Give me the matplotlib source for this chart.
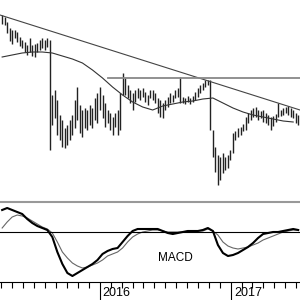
import matplotlib
matplotlib.use("Agg")
import matplotlib.pyplot as plt
import matplotlib.dates as mdates
import numpy as np
import pandas as pd

plt.rcParams['font.family'] = ['Liberation Sans', 'DejaVu Sans']

# weekly bars
dates = pd.date_range('2015-04-03', periods=119, freq='W-FRI')

high = [185, 183, 178, 172, 170, 170, 168, 163, 160, 158, 155, 162, 155, 156, 157, 160, 162, 160, 162, 160,
        105, 110, 100, 85, 80, 72, 75, 80, 85, 100, 113, 95, 90, 92, 90, 95, 92, 102, 107, 113,
        105, 97, 90, 87, 83, 87, 90, 107, 127, 122, 115, 110, 107, 110, 112, 110, 112, 108, 105, 110,
        110, 107, 102, 100, 97, 100, 103, 107, 105, 110, 112, 123, 103, 102, 104, 102, 104, 108, 112, 115,
        117, 120, 120, 120, 70, 53, 45, 43, 47, 43, 45, 50, 67, 69, 72, 73, 76, 83, 87, 90,
        92, 93, 90, 89, 90, 87, 85, 83, 84, 86, 97, 90, 92, 93, 94, 92, 90, 87, 85]
low = [176, 175, 167, 159, 156, 162, 158, 154, 152, 148, 145, 148, 144, 143, 148, 150, 152, 150, 153, 50,
       75, 82, 65, 60, 53, 52, 55, 60, 65, 72, 80, 67, 63, 72, 70, 75, 72, 80, 77, 90,
       82, 73, 77, 70, 65, 73, 65, 70, 105, 105, 102, 97, 90, 98, 102, 100, 103, 98, 95, 102,
       100, 97, 87, 83, 82, 90, 93, 97, 98, 102, 103, 97, 97, 96, 98, 96, 98, 100, 103, 107,
       110, 113, 115, 70, 43, 28, 15, 20, 27, 30, 32, 40, 47, 60, 63, 65, 69, 70, 77, 80,
       83, 83, 80, 82, 78, 77, 75, 70, 74, 78, 83, 84, 85, 87, 85, 83, 82, 77, 75]

# moving average, every 4th week
ma = [143, 145, 147, 148, 148, 147, 144, 141, 137, 130, 122, 113, 105, 98, 93,
      90, 94, 96, 98, 99, 101, 102, 97, 92, 88, 85, 83, 81, 79, 78]

# trend line and resistance level
trend_dates = pd.to_datetime(['2015-03-28', '2017-07-12'])
trend_vals = [185, 90]
level = 122
level_start = pd.Timestamp('2016-01-23')

# MACD and signal, every 2nd week
macd = [22, 24, 22, 20, 18, 13, 9, 6, 4, 2, -5, -20, -32, -41, -44, -41, -38, -35, -32, -28,
        -22, -19, -17, -16, -10, -4, 1, 3, 3, 3, 3, 3, 1, -1, -2, -1, 0, 1, 1, 1,
        2, 4, 1, -13, -21, -24, -23, -21, -18, -15, -11, -6, -2, -1, 0, 0, 1, 2, 3, 2]
signal = [4, 10, 15, 17, 16, 14, 11, 8, 5, 3, -1, -10, -20, -26, -31, -34, -36, -35, -33, -31,
          -28, -24, -22, -20, -16, -10, -5, -2, 0, 1, 2, 2, 1, 0, 0, 0, 0, 1, 1, 1,
          1, 3, 1, -3, -10, -14, -16, -17, -16, -15, -13, -11, -8, -6, -4, -2, 0, 1, 2, 2]

xmin = pd.Timestamp('2015-03-28')
xmax = pd.Timestamp('2017-07-12')

fig = plt.figure(figsize=(3, 3), dpi=100)

ax = fig.add_axes([0, 100/300, 1, 200/300])
ax.vlines(dates, low, high, color='#222222', lw=1)
ax.plot(dates[::4], ma, color='#333333', lw=0.8)
ax.plot(trend_dates, trend_vals, color='#444444', lw=0.8)
ax.plot([level_start, xmax], [level, level], color='#888888', lw=1.3)
ax.set_xlim(xmin, xmax)
ax.set_ylim(0, 200)
ax.axis('off')

ax2 = fig.add_axes([0, 18/300, 1, 80/300])
ax2.plot(dates[::2], signal, color='#666666', lw=0.8)
ax2.plot(dates[::2], macd, color='black', lw=1.5)
ax2.axhline(0, color='black', lw=0.8)
ax2.set_xlim(xmin, xmax)
ax2.set_ylim(-50, 30)
ax2.spines['left'].set_visible(False)
ax2.spines['right'].set_visible(False)
ax2.spines['top'].set_color('#999999')
ax2.spines['top'].set_linewidth(1.5)
ax2.spines['bottom'].set_linewidth(0.8)
ax2.set_yticks([])
ax2.xaxis.set_major_locator(mdates.YearLocator())
ax2.xaxis.set_minor_locator(mdates.MonthLocator())
ax2.xaxis.set_major_formatter(plt.NullFormatter())
ax2.tick_params(axis='x', which='major', direction='out', length=14, width=0.8)
ax2.tick_params(axis='x', which='minor', direction='out', length=4, width=0.8)
for yr in ['2016', '2017']:
    ax2.annotate(yr, (pd.Timestamp(yr + '-01-01'), 0), xycoords=('data', 'axes fraction'),
                 xytext=(2, -8), textcoords='offset points', ha='left', va='center', fontsize=9)
ax2.text(pd.Timestamp('2016-07-28'), -26, 'MACD', ha='center', va='center', fontsize=8.5)

fig.savefig('out.png', dpi=100)
